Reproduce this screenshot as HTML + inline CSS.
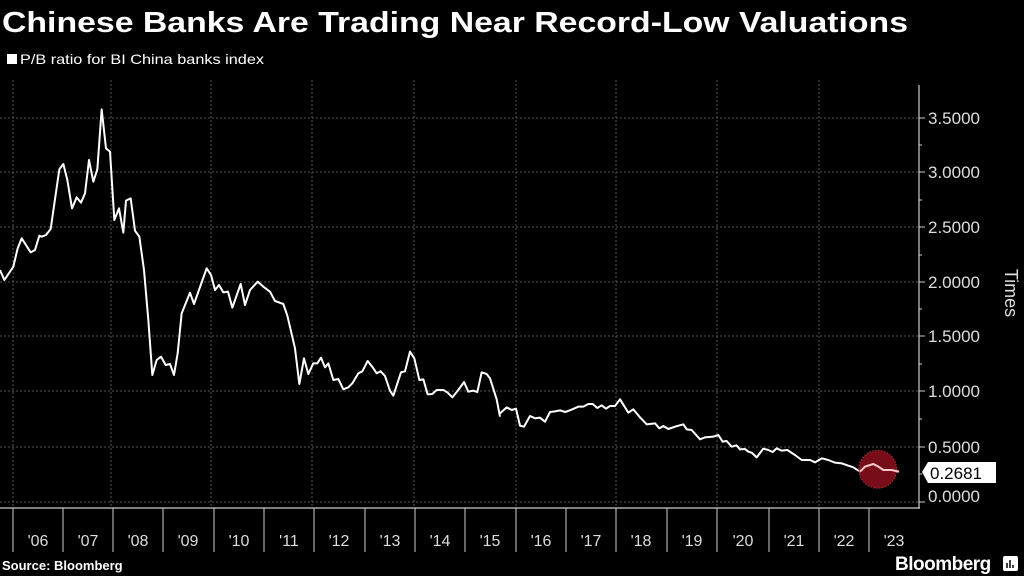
<!DOCTYPE html>
<html><head><meta charset="utf-8"><style>
html,body{margin:0;padding:0;background:#000;}
svg{display:block;font-family:"Liberation Sans",sans-serif;}
</style></head><body>
<svg width="1024" height="576" viewBox="0 0 1024 576">
<rect width="1024" height="576" fill="#000"/>
<text x="2" y="32" fill="#fff" font-size="29" font-weight="bold" textLength="906" lengthAdjust="spacingAndGlyphs">Chinese Banks Are Trading Near Record-Low Valuations</text>
<rect x="7" y="54" width="10" height="10" fill="#fff"/>
<text x="20" y="64" fill="#fff" font-size="14" textLength="244" lengthAdjust="spacingAndGlyphs">P/B ratio for BI China banks index</text>
<g stroke="#555" stroke-width="1" stroke-dasharray="2,2">
<line x1="0" y1="118" x2="919" y2="118"/><line x1="0" y1="172" x2="919" y2="172"/>
<line x1="0" y1="227" x2="919" y2="227"/><line x1="0" y1="282" x2="919" y2="282"/>
<line x1="0" y1="336" x2="919" y2="336"/><line x1="0" y1="391" x2="919" y2="391"/>
<line x1="0" y1="447" x2="919" y2="447"/><line x1="0" y1="502" x2="919" y2="502"/>
<line x1="13" y1="80" x2="13" y2="508"/><line x1="111" y1="80" x2="111" y2="508"/>
<line x1="211" y1="80" x2="211" y2="508"/><line x1="312" y1="80" x2="312" y2="508"/>
<line x1="414" y1="80" x2="414" y2="508"/><line x1="516" y1="80" x2="516" y2="508"/>
<line x1="616" y1="80" x2="616" y2="508"/><line x1="717" y1="80" x2="717" y2="508"/>
<line x1="819" y1="80" x2="819" y2="508"/>
</g>
<g stroke="#ccc" stroke-width="1.2">
<line x1="0" y1="508" x2="920" y2="508"/><line x1="919" y1="85" x2="919" y2="508"/>
</g>
<g stroke="#ccc" stroke-width="1">
<line x1="13" y1="508" x2="13" y2="552"/><line x1="63" y1="508" x2="63" y2="552"/><line x1="113" y1="508" x2="113" y2="552"/>
<line x1="163" y1="508" x2="163" y2="552"/><line x1="214" y1="508" x2="214" y2="552"/><line x1="264" y1="508" x2="264" y2="552"/>
<line x1="314" y1="508" x2="314" y2="552"/><line x1="365" y1="508" x2="365" y2="552"/><line x1="415" y1="508" x2="415" y2="552"/>
<line x1="465" y1="508" x2="465" y2="552"/><line x1="516" y1="508" x2="516" y2="552"/><line x1="566" y1="508" x2="566" y2="552"/>
<line x1="616" y1="508" x2="616" y2="552"/><line x1="667" y1="508" x2="667" y2="552"/><line x1="717" y1="508" x2="717" y2="552"/>
<line x1="769" y1="508" x2="769" y2="552"/><line x1="819" y1="508" x2="819" y2="552"/><line x1="869" y1="508" x2="869" y2="552"/>
<line x1="919" y1="118" x2="925" y2="118"/><line x1="919" y1="172" x2="925" y2="172"/><line x1="919" y1="227" x2="925" y2="227"/>
<line x1="919" y1="282" x2="925" y2="282"/><line x1="919" y1="336" x2="925" y2="336"/><line x1="919" y1="391" x2="925" y2="391"/>
<line x1="919" y1="447" x2="925" y2="447"/><line x1="919" y1="502" x2="925" y2="502"/>
<line x1="919" y1="145" x2="922" y2="145"/><line x1="919" y1="200" x2="922" y2="200"/><line x1="919" y1="255" x2="922" y2="255"/>
<line x1="919" y1="309" x2="922" y2="309"/><line x1="919" y1="364" x2="922" y2="364"/><line x1="919" y1="419" x2="922" y2="419"/>
<line x1="919" y1="474" x2="922" y2="474"/>
</g>
<g fill="#ddd" font-size="17">
<text x="928" y="124">3.5000</text><text x="928" y="178">3.0000</text><text x="928" y="233">2.5000</text>
<text x="928" y="288">2.0000</text><text x="928" y="342">1.5000</text><text x="928" y="397">1.0000</text>
<text x="928" y="453">0.5000</text><text x="928" y="502">0.0000</text>
</g>
<text transform="translate(1005,293) rotate(90)" fill="#ddd" font-size="18" text-anchor="middle">Times</text>
<g fill="#ddd" font-size="16" text-anchor="middle">
<text x="38" y="546">'06</text><text x="88" y="546">'07</text><text x="138" y="546">'08</text><text x="188" y="546">'09</text>
<text x="239" y="546">'10</text><text x="289" y="546">'11</text><text x="339" y="546">'12</text><text x="390" y="546">'13</text>
<text x="440" y="546">'14</text><text x="490" y="546">'15</text><text x="541" y="546">'16</text><text x="591" y="546">'17</text>
<text x="641" y="546">'18</text><text x="692" y="546">'19</text><text x="743" y="546">'20</text><text x="794" y="546">'21</text>
<text x="844" y="546">'22</text><text x="894" y="546">'23</text>
</g>
<g fill="none" stroke="#fff" stroke-width="2" stroke-linejoin="round">
<polyline transform="translate(0,80) scale(0.33333)" stroke-width="6" points="0,570 13,600 40,560 53,505 65,475 92,517 105,510 118,467 125,470 138,465 152,447 178,268 190,252 202,300 216,385 230,352 243,368 255,340 267,240 280,305 292,268 305,88 318,205 330,215 343,420 357,385 370,458 378,362 392,355 405,452 418,470 432,570 445,720 457,885 470,840 483,830 497,855 510,852 522,885 533,820 545,700 570,638 582,672 620,565 633,585 645,630 657,615 670,637 684,635 697,683 722,612 735,675 750,630 773,605 790,620 810,635 825,663 850,672 862,707 885,805 898,912 912,835 925,882 940,850 952,850 963,833 975,862 985,850 1000,900 1015,897 1030,928 1045,922 1057,910 1075,880 1087,874 1103,843 1118,862 1130,880 1142,874 1155,888 1170,932 1180,947 1203,877 1215,874 1230,815 1243,835 1258,900 1270,898 1283,943 1297,942 1310,930 1330,930 1342,937 1357,952 1375,930 1392,906 1405,935 1420,932 1432,936 1445,877 1460,882 1470,895 1490,958 1500,1010"/>
<polyline transform="translate(500,330) scale(0.33333)" stroke-width="6" points="0,250 20,232 35,240 48,236 60,287 72,290 90,258 105,265 120,263 135,275 150,246 165,244 180,241 195,246 210,241 235,230 250,230 265,222 278,222 292,234 305,226 318,236 330,228 345,228 360,208 375,232 385,248 400,238 420,262 440,283 465,280 478,295 490,288 505,297 525,290 550,283 560,298 575,300 600,328 615,322 640,320 655,315 668,335 680,333 695,350 710,346 720,358 735,357 745,365 755,368 770,382 790,356 805,360 818,366 830,355 845,362 862,360 885,375 905,390 930,390 945,397 965,385 985,390 1005,398 1025,400 1045,407 1060,412 1080,425 1095,410 1120,402 1135,410 1150,420 1175,420 1197,425"/>
</g>
<circle cx="877.7" cy="469.3" r="19" fill="#8b0f1c" fill-opacity="0.85" stroke="#c0404a" stroke-width="1" stroke-dasharray="1,2"/>
<polyline transform="translate(500,330) scale(0.33333)" fill="none" stroke="#f3c9cc" stroke-width="6" points="1080,425 1095,410 1120,402 1135,410 1150,420 1175,420 1197,425"/>
<path d="M922,472 L928,462 L996,462 L996,483 L928,483 Z" fill="#fff"/>
<text x="930" y="479" fill="#000" font-size="17">0.2681</text>
<text x="2" y="570" fill="#fff" font-size="13" font-weight="bold">Source: Bloomberg</text>
<text x="895" y="570" fill="#fff" font-size="19" font-weight="bold" letter-spacing="-0.5">Bloomberg</text>
<rect x="1003" y="556" width="15" height="15" rx="2" fill="#fff"/>
<g stroke="#000" stroke-width="1.5"><line x1="1007" y1="568" x2="1007" y2="563"/><line x1="1010" y1="568" x2="1010" y2="560"/><line x1="1013" y1="568" x2="1013" y2="565"/></g>
</svg>
</body></html>
